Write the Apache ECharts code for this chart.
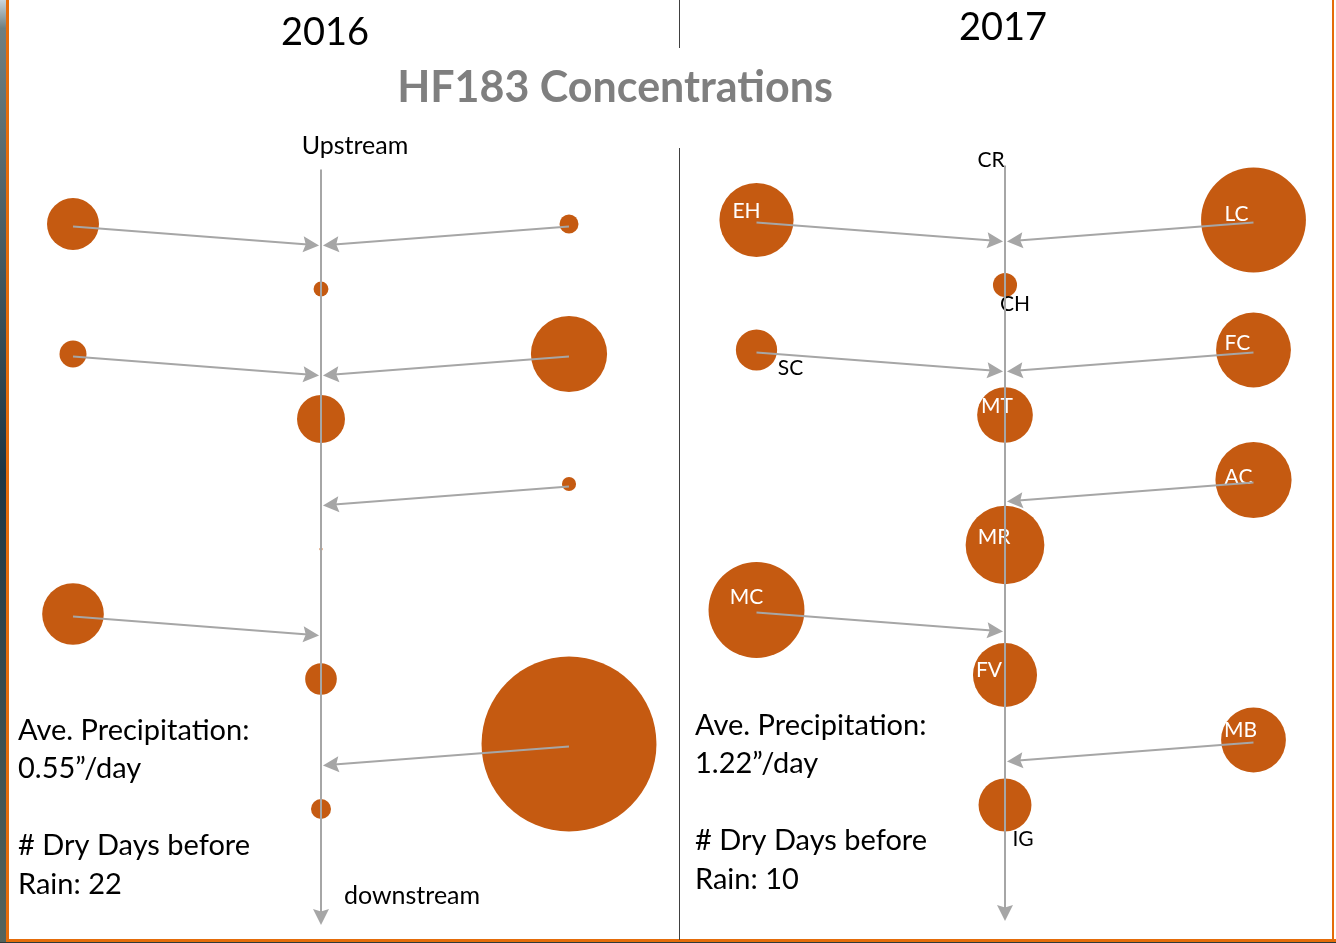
<!DOCTYPE html>
<html>
<head>
<meta charset="utf-8">
<title>HF183 Concentrations</title>
<script src="https://cdn.jsdelivr.net/npm/echarts@6/dist/echarts.min.js"></script>
<style>
html, body { margin: 0; padding: 0; background: #fff; }
#chart { width: 1336px; height: 943px; }
</style>
</head>
<body>
<div id="chart"></div>
<script>
// sampling sites, upstream -> downstream
var sites = ['EH', 'LC', 'CH', 'SC', 'FC', 'MT', 'AC', 'MR', 'MC', 'FV', 'MB', 'IG'];
// -1 = left tributary, 0 = main stem, 1 = right tributary
var siteSide = [-1, 1, 0, -1, 1, 0, 1, 0, -1, 0, 1, 0];
// position along the stream (1 = most upstream)
var siteOrder = [1, 1, 2, 3, 3, 4, 5, 6, 7, 8, 9, 10];
// HF183 concentration (relative, shown as bubble area)
var conc2016 = [27, 3.6, 2.2, 7.3, 58, 23, 2.0, 0.1, 38, 10, 306, 4];
var conc2017 = [55, 110, 5.8, 17, 56, 31, 58, 62, 92, 41, 42, 28];
var years = ['2016', '2017'];
var precip = ['0.55\u201d/day', '1.22\u201d/day'];
var dryDays = [22, 10];

var FONT = 'Lato, "Open Sans", sans-serif';
var ORANGE = '#c55a11';
var GREY = '#a6a6a6';
// filled arrow head with a small notch
var ARROW = 'path://M5,0 L10,12 L5,10 L0,12 Z';

// label placement for 2017 (offset from bubble centre)
var labelPos = {
    EH: [-10, -9, '#fff'], LC: [-17, -6, '#fff'], FC: [-16, -7, '#fff'],
    MT: [-8, -9, '#fff'], AC: [-15, -3, '#fff'], MR: [-11, -8, '#fff'],
    MC: [-10, -13, '#fff'], FV: [-16, -5, '#fff'], MB: [-13, -10, '#fff'],
    CH: [10, 19, '#000'], SC: [34, 18, '#000'], IG: [18, 34, '#000']
};

function bubbles(conc, withLabels) {
    return sites.map(function (s, i) {
        var item = { name: s, value: [siteSide[i], siteOrder[i], conc[i]] };
        if (withLabels) {
            var p = labelPos[s];
            item.label = {
                show: true, position: 'inside', offset: [p[0], p[1]],
                formatter: s, color: p[2], fontSize: 21, fontFamily: FONT
            };
        }
        return item;
    });
}

function arrows() {
    var out = [{ coords: [[0, 0.16], [0, 11.66]] }];
    for (var i = 0; i < sites.length; i++) {
        if (siteSide[i] === 0) continue;
        out.push({ coords: [[siteSide[i], siteOrder[i] + 0.04], [siteSide[i] * 0.04, siteOrder[i] + 0.32]] });
    }
    return out;
}

function axisPair(n) {
    return {
        x: { type: 'value', gridIndex: n, min: -1.2, max: 1.2, show: false },
        y: { type: 'value', gridIndex: n, min: 0, max: 12, inverse: true, show: false }
    };
}
var a0 = axisPair(0), a1 = axisPair(1);

var myChart = echarts.init(document.getElementById('chart'));

var graphics = [
    { type: 'rect', shape: { x: 0, y: 0, width: 6, height: 943 }, style: {
        fill: new echarts.graphic.LinearGradient(0, 0, 0, 1, [
            { offset: 0, color: '#c9d6de' }, { offset: 0.03, color: '#6f7f80' },
            { offset: 0.5, color: '#1d3644' }, { offset: 1, color: '#55645c' }]) } },
    { type: 'rect', shape: { x: 6, y: 0, width: 3, height: 943 }, style: { fill: '#e46c0a' } },
    { type: 'rect', shape: { x: 6, y: 939, width: 1330, height: 3 }, style: { fill: '#e46c0a' } },
    { type: 'rect', shape: { x: 0, y: 942, width: 1336, height: 1 }, style: { fill: '#2c3a3a' } },
    { type: 'rect', shape: { x: 1332, y: 0, width: 2, height: 941 }, style: { fill: '#e46c0a' } },
    { type: 'rect', shape: { x: 679, y: 0, width: 1, height: 48 }, style: { fill: '#404040' } },
    { type: 'rect', shape: { x: 679, y: 148, width: 1, height: 792 }, style: { fill: '#404040' } },
    { type: 'text', x: 325, y: 33, style: { text: years[0], font: '38px ' + FONT, fill: '#000', textAlign: 'center', textVerticalAlign: 'middle' } },
    { type: 'text', x: 1003, y: 28, style: { text: years[1], font: '38px ' + FONT, fill: '#000', textAlign: 'center', textVerticalAlign: 'middle' } },
    { type: 'text', x: 615, y: 88, style: { text: 'HF183 Concentrations', font: 'bold 43px ' + FONT, fill: '#7f7f7f', textAlign: 'center', textVerticalAlign: 'middle' } },
    { type: 'text', x: 355, y: 146, style: { text: 'Upstream', font: '25px ' + FONT, fill: '#000', textAlign: 'center', textVerticalAlign: 'middle' } },
    { type: 'text', x: 412, y: 896, style: { text: 'downstream', font: '25px ' + FONT, fill: '#000', textAlign: 'center', textVerticalAlign: 'middle' } },
    { type: 'text', x: 991, y: 160, style: { text: 'CR', font: '21px ' + FONT, fill: '#000', textAlign: 'center', textVerticalAlign: 'middle' } }
];
[[18, 711], [695, 706]].forEach(function (p, i) {
    graphics.push({ type: 'text', x: p[0], y: p[1], style: {
        text: 'Ave. Precipitation:\n' + precip[i] + '\n\n# Dry Days before\nRain: ' + dryDays[i],
        font: '29px ' + FONT, lineHeight: 38.5, fill: '#000', textAlign: 'left', textVerticalAlign: 'top' } });
});

var lineStyle = { color: GREY, width: 2, opacity: 1, curveness: 0 };

var option = {
    animation: false,
    backgroundColor: '#fff',
    grid: [
        { left: 23.4, top: 159, width: 595.2, height: 780 },
        { left: 706.8, top: 155, width: 596.4, height: 780 }
    ],
    xAxis: [a0.x, a1.x],
    yAxis: [a0.y, a1.y],
    graphic: graphics,
    series: [
        {
            type: 'scatter', xAxisIndex: 0, yAxisIndex: 0, z: 2, silent: true,
            data: bubbles(conc2016, false),
            symbolSize: function (v) { return Math.sqrt(v[2]) * 10; },
            itemStyle: { color: ORANGE, opacity: 1 }
        },
        {
            type: 'scatter', xAxisIndex: 1, yAxisIndex: 1, z: 2, silent: true,
            data: bubbles(conc2017, true),
            symbolSize: function (v) { return Math.sqrt(v[2]) * 10; },
            itemStyle: { color: ORANGE, opacity: 1 }
        },
        {
            type: 'lines', coordinateSystem: 'cartesian2d', xAxisIndex: 0, yAxisIndex: 0, z: 3, silent: true,
            symbol: ['none', ARROW], symbolSize: [0, 16], lineStyle: lineStyle, data: arrows()
        },
        {
            type: 'lines', coordinateSystem: 'cartesian2d', xAxisIndex: 1, yAxisIndex: 1, z: 3, silent: true,
            symbol: ['none', ARROW], symbolSize: [0, 16], lineStyle: lineStyle, data: arrows()
        }
    ]
};
myChart.setOption(option);
</script>
</body>
</html>
